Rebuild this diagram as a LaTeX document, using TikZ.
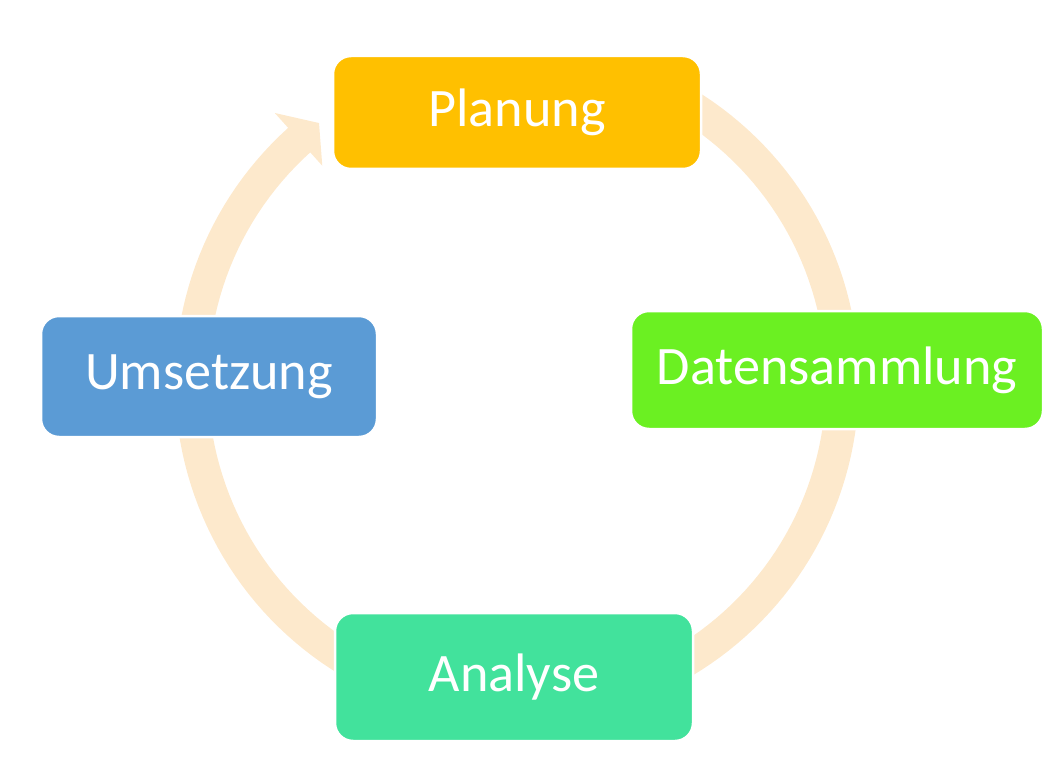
\documentclass[tikz,border=0pt]{standalone}
\usepackage{fontspec}
\setmainfont{Carlito}
\definecolor{ringc}{HTML}{FDE9CC}
\definecolor{cplan}{HTML}{FFC000}
\definecolor{cdaten}{HTML}{6BF022}
\definecolor{cana}{HTML}{42E29C}
\definecolor{cums}{HTML}{5B9BD5}
\tikzset{
  stepbox/.style={rectangle, rounded corners=18pt, draw=white, line width=2.5pt,
    inner sep=0pt, text=white, font=\fontsize{54.2}{60}\selectfont}
}
\begin{document}
\begin{tikzpicture}[x=1pt,y=-1pt]
\useasboundingbox (0,0) rectangle (1052,762);
% ring arrow
\fill[ringc] plot[domain=-70:228,samples=160] ({517+342*cos(\x)},{382+342*sin(\x)})
  -- ({517+362*cos(228)},{382+362*sin(228)})
  -- ({517+326*cos(232.6)},{382+326*sin(232.6)})
  -- ({517+291*cos(228)},{382+291*sin(228)})
  -- plot[domain=228:-70,samples=160] ({517+309*cos(\x)},{382+309*sin(\x)}) -- cycle;
% boxes
\node[stepbox, fill=cplan, minimum width=368pt, minimum height=113pt] (plan) at (517,112.5) {Planung};
\node[stepbox, fill=cdaten, minimum width=412pt, minimum height=118pt] (daten) at (837,370) {Datensammlung};
\node[stepbox, fill=cana, minimum width=358pt, minimum height=128pt] (ana) at (514,677) {Analyse};
\node[stepbox, fill=cums, minimum width=336pt, minimum height=121pt] (ums) at (209,376.5) {Umsetzung};
\end{tikzpicture}
\end{document}
